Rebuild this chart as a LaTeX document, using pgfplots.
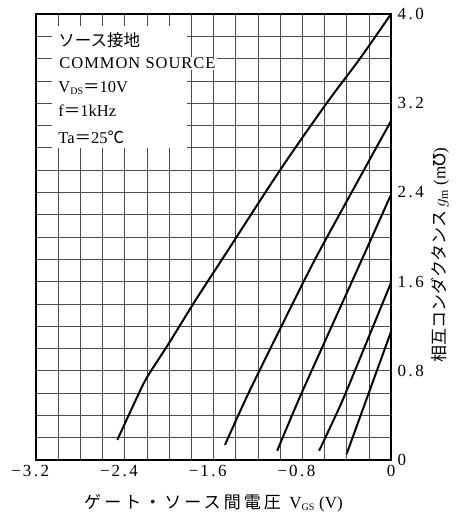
\documentclass[border=0pt]{standalone}
\usepackage{fontspec}
\setmainfont{Liberation Serif}
\newfontfamily\jp{Noto Sans CJK JP}
\newfontfamily\jpx{Noto Sans CJK JP}[LetterSpace=18]
\newfontfamily\tickf{Liberation Serif}
\newfontfamily\djv{DejaVu Sans}
\newfontfamily\lsp{Liberation Serif}[LetterSpace=6]
\newcommand\tl[2]{#1\kern2.5pt.\kern2.5pt#2}
\usepackage{pgfplots}
\pgfplotsset{compat=1.18}
\begin{document}
\begin{tikzpicture}
\begin{axis}[
  scale only axis, width=355pt, height=446pt,
  xmin=-3.2, xmax=0, ymin=0, ymax=4,
  clip=false,
  xtick={-3.2,-2.4,-1.6,-0.8,0},
  xticklabels={\llap{−\kern2pt}\tl{3}{2},\llap{−\kern2pt}\tl{2}{4},\llap{−\kern2pt}\tl{1}{6},\llap{−\kern2pt}\tl{0}{8},0},
  ytick={0,0.8,1.6,2.4,3.2,4.0},
  yticklabels={0,\tl{0}{8},\tl{1}{6},\tl{2}{4},\tl{3}{2},\tl{4}{0}},
  minor x tick num=3, minor y tick num=3,
  grid=both,
  major grid style={line width=0.6pt, black!70},
  minor grid style={line width=0.6pt, black!70},
  yticklabel pos=right,
  major tick length=0pt, minor tick length=0pt,
  axis line style={line width=1.1pt},
  ticklabel style={font=\tickf\fontsize{17}{17}\selectfont},
  xticklabel style={yshift=-2pt},
  yticklabel style={xshift=3pt},
]
\coordinate (bl) at (rel axis cs:0,0);
\coordinate (tr) at (rel axis cs:1,1);
\fill[white] (axis cs:-3.056,2.80) rectangle (axis cs:-1.84,3.89);
\begin{scope}[every node/.style={anchor=west, inner sep=0pt, font=\fontsize{16.5}{18}\selectfont}]
\node at (axis cs:-3.0,3.767) {\jp ソース接地};
\node[fill=white, inner sep=1pt] at (axis cs:-3.0,3.56) {\lsp COMMON SOURCE};
\node at (axis cs:-3.0,3.336) {V\raisebox{-0.3ex}{\fontsize{10}{10}\selectfont DS}{\jp ＝}10V};
\node at (axis cs:-3.0,3.13) {f{\jp ＝}1kHz};
\node at (axis cs:-3.0,2.897) {Ta{\jp ＝}25{\jp ℃}};
\end{scope}
\addplot[line width=2pt, black, smooth, tension=0.5] coordinates {
(-2.467,0.18) (-2.3,0.54) (-2.2,0.74) (-2.0,1.05) (-1.77,1.42) (-1.47,1.88) (-1.0,2.6) (-0.58,3.2) (-0.28,3.6) (0,4.0)};
\addplot[line width=2pt, black, smooth, tension=0.3] coordinates {
(-1.497,0.135) (-1.27,0.63) (-0.69,1.79) (0,3.04)};
\addplot[line width=2pt, black, smooth, tension=0.3] coordinates {
(-1.026,0.083) (-0.806,0.6) (-0.266,1.79) (0,2.38)};
\addplot[line width=2pt, black, smooth, tension=0.3] coordinates {
(-0.648,0.083) (-0.43,0.55) (0,1.59)};
\addplot[line width=2pt, black] coordinates {
(-0.40,0.054) (0,1.15)};
\node[font=\fontsize{17}{18}\selectfont] at ([yshift=-43pt]rel axis cs:0.5,0) {{\jpx ゲート・ソース間電圧}\enspace V\raisebox{-0.3ex}{\fontsize{10}{10}\selectfont GS}\;(V)};
\node[font=\fontsize{17}{18}\selectfont, rotate=90] at ([xshift=49pt,yshift=-18pt]rel axis cs:1,0.5) {{\jp 相互コンダクタンス}\,$g_{\mathrm{m}}$\;(m{\djv ℧})};
\end{axis}
\pgfresetboundingbox
\path ([xshift=-36pt,yshift=-54pt]bl) rectangle ([xshift=65pt,yshift=14pt]tr);
\end{tikzpicture}
\end{document}
